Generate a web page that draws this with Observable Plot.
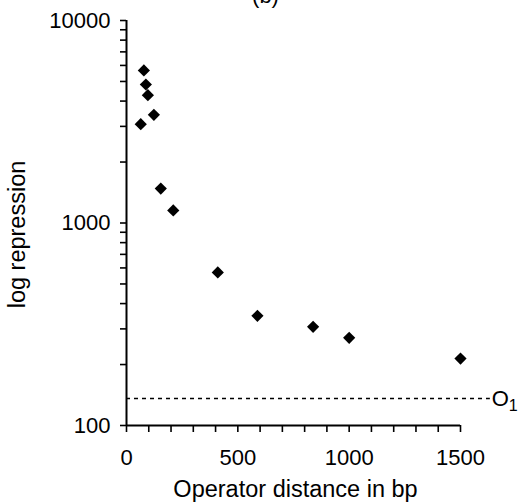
<!DOCTYPE html>
<html>
<head>
<meta charset="utf-8">
<script src="https://cdn.jsdelivr.net/npm/d3@7"></script>
<script src="https://cdn.jsdelivr.net/npm/@observablehq/plot@0.6"></script>
<style>
  html, body { margin: 0; padding: 0; background: white; }
  svg { display: block; }
</style>
</head>
<body>
<div id="chart"></div>
<script>
// Data
const distance   = [64, 78, 87, 96, 123, 154, 210, 410, 588, 838, 1000, 1500];
const repression = [3076, 5665, 4830, 4276, 3420, 1480, 1153, 570, 348, 307, 271, 214];

// Reference level of the single operator O1
const o1Level = [136];
const o1Label = ["O", "1"];

// Axis ticks
const xTicks = [0, 100, 200, 300, 400, 500, 600, 700, 800, 900, 1000, 1100, 1200, 1300, 1400, 1500];
const xTickLabels = [0, 500, 1000, 1500];
const yTicks = [100, 200, 300, 400, 500, 600, 700, 800, 900,
                1000, 2000, 3000, 4000, 5000, 6000, 7000, 8000, 9000, 10000];
const yTickLabels = [100, 1000, 10000];

const title = "(b)";
const xTitle = "Operator distance in bp";
const yTitle = "log repression";

const points = distance.map((d, i) => ({distance: d, repression: repression[i]}));

const chart = Plot.plot({
  width: 521,
  height: 503,
  marginLeft: 126,
  marginRight: 61,
  marginTop: 20,
  marginBottom: 78,
  x: {domain: [0, 1500]},
  y: {type: "log", domain: [100, 10000]},
  style: {
    fontFamily: "'Liberation Sans', Arial, Helvetica, sans-serif",
    fontSize: "22px",
    color: "black",
    background: "white",
    overflow: "visible"
  },
  marks: [
    Plot.axisX({
      ticks: xTicks,
      tickFormat: d => xTickLabels.includes(d) ? String(d) : "",
      tickSize: 7,
      tickPadding: 17,
      strokeWidth: 1.6,
      label: null
    }),
    Plot.axisY({
      ticks: yTicks,
      tickFormat: d => yTickLabels.includes(d) ? String(d) : "",
      tickSize: 6,
      tickPadding: 10,
      strokeWidth: 1.6,
      label: null
    }),
    Plot.ruleX([0], {y1: 100, y2: 10000, stroke: "black", strokeWidth: 2}),
    Plot.ruleY([100], {x1: 0, x2: 1500, stroke: "black", strokeWidth: 2}),
    Plot.ruleY(o1Level, {x1: 0, x2: 1634, stroke: "black", strokeWidth: 1.5, strokeDasharray: "4,4"}),
    Plot.text([o1Label[0]], {x: 1640, y: o1Level, text: d => d, textAnchor: "start", fontSize: 22}),
    Plot.text([o1Label[1]], {x: 1640, y: o1Level, text: d => d, textAnchor: "start", fontSize: 16, dx: 17, dy: 7}),
    Plot.dot(points, {x: "distance", y: "repression", symbol: "diamond2", r: 5.5, fill: "black", stroke: "none"}),
    Plot.text([title], {frameAnchor: "top", text: d => d, dx: -28, dy: -18, lineAnchor: "bottom", fontSize: 22}),
    Plot.text([xTitle], {frameAnchor: "bottom", text: d => d, dx: 2, dy: 71, fontSize: 23.5}),
    Plot.text([yTitle], {frameAnchor: "left", y: [877], text: d => d, dx: -109, rotate: -90, textAnchor: "middle", fontSize: 23.5})
  ]
});

document.getElementById("chart").appendChild(chart);
</script>
</body>
</html>
